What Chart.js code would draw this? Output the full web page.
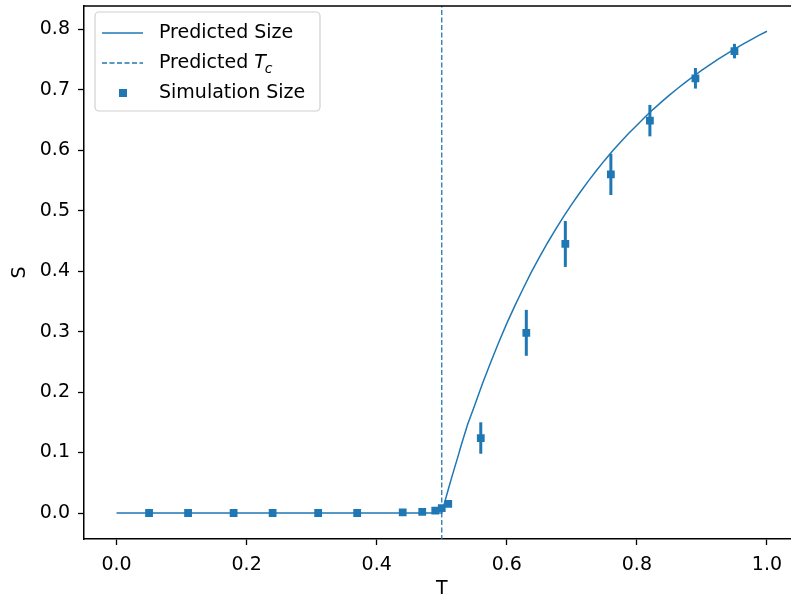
<!DOCTYPE html>
<html>
<head>
<meta charset="utf-8">
<script src="https://cdn.jsdelivr.net/npm/chart.js@4.4.1/dist/chart.umd.min.js"></script>
<style>
  html, body { margin: 0; padding: 0; background: #fff; overflow: hidden; }
  #wrap { width: 791px; height: 596px; overflow: hidden; }
</style>
</head>
<body>
<div id="wrap"><canvas id="sizeChart" width="805" height="596"></canvas></div>
<script>
// predicted giant component size
var predT = [0, 0.5, 0.505, 0.51, 0.515, 0.52, 0.525, 0.53, 0.535, 0.54, 0.545, 0.55, 0.5625, 0.575, 0.5875, 0.6, 0.6125, 0.625, 0.6375, 0.65, 0.6625, 0.675, 0.6875, 0.7, 0.7125, 0.725, 0.7375, 0.75, 0.7625, 0.775, 0.7875, 0.8, 0.8125, 0.825, 0.8375, 0.85, 0.8625, 0.875, 0.8875, 0.9, 0.9125, 0.925, 0.9375, 0.95, 0.9625, 0.975, 0.9875, 1.0];
var predS = [0, 0, 0.0197, 0.039, 0.0577, 0.0759, 0.0937, 0.1124, 0.1299, 0.1472, 0.1618, 0.1761, 0.2137, 0.2486, 0.2821, 0.3137, 0.3431, 0.371, 0.3979, 0.4228, 0.4466, 0.4691, 0.4906, 0.5108, 0.5301, 0.5486, 0.566, 0.5828, 0.5988, 0.6138, 0.6282, 0.6414, 0.6551, 0.6677, 0.6797, 0.6912, 0.7022, 0.7127, 0.7228, 0.7324, 0.7417, 0.7506, 0.7591, 0.7672, 0.7751, 0.7826, 0.7899, 0.7968];

// simulation results
var simT = [0.05, 0.11, 0.18, 0.24, 0.31, 0.37, 0.44, 0.47, 0.49, 0.50, 0.51, 0.56, 0.63, 0.69, 0.76, 0.82, 0.89, 0.95];
var simS = [0, 0, 0, 0, 0, 0, 0.001, 0.002, 0.004, 0.008, 0.015, 0.124, 0.298, 0.445, 0.56, 0.649, 0.719, 0.764];
var simErr = [0, 0, 0, 0, 0, 0, 0, 0, 0, 0, 0.001, 0.026, 0.038, 0.038, 0.034, 0.026, 0.017, 0.012];

var tc = 0.5;

var xTicks = [0, 0.2, 0.4, 0.6, 0.8, 1.0];
var yTicks = [0, 0.1, 0.2, 0.3, 0.4, 0.5, 0.6, 0.7, 0.8];

var blue = '#1f77b4';
Chart.defaults.font.family = 'DejaVu Sans';
Chart.defaults.font.size = 19;
Chart.defaults.color = '#000';

var errorBars = {
    id: 'errorBars',
    afterDatasetsDraw: function(chart) {
        var ctx = chart.ctx, xs = chart.scales.x, ys = chart.scales.y;
        ctx.save();
        ctx.strokeStyle = blue;
        ctx.lineWidth = 3;
        for (var i = 0; i < simT.length; i++) {
            if (!simErr[i]) continue;
            var px = xs.getPixelForValue(simT[i]);
            ctx.beginPath();
            ctx.moveTo(px, ys.getPixelForValue(simS[i] - simErr[i]));
            ctx.lineTo(px, ys.getPixelForValue(simS[i] + simErr[i]));
            ctx.stroke();
        }
        ctx.restore();
    }
};

var frame = {
    id: 'frame',
    afterDraw: function(chart) {
        var ctx = chart.ctx, a = chart.chartArea;
        ctx.save();
        ctx.strokeStyle = '#000';
        ctx.lineWidth = 1.5;
        ctx.beginPath();
        ctx.moveTo(a.left, a.top);
        ctx.lineTo(a.right + 10, a.top);
        ctx.stroke();

        // legend box
        var lx = 95, ly = 12, lw = 225, lh = 99, r = 4;
        ctx.beginPath();
        ctx.moveTo(lx + r, ly);
        ctx.arcTo(lx + lw, ly, lx + lw, ly + lh, r);
        ctx.arcTo(lx + lw, ly + lh, lx, ly + lh, r);
        ctx.arcTo(lx, ly + lh, lx, ly, r);
        ctx.arcTo(lx, ly, lx + lw, ly, r);
        ctx.closePath();
        ctx.fillStyle = 'rgba(255,255,255,0.8)';
        ctx.fill();
        ctx.strokeStyle = '#d0d0d0';
        ctx.lineWidth = 1.2;
        ctx.stroke();

        ctx.strokeStyle = blue;
        ctx.lineWidth = 1.5;
        ctx.beginPath();
        ctx.moveTo(102, 33); ctx.lineTo(143, 33);
        ctx.stroke();
        ctx.setLineDash([5, 2.5]);
        ctx.beginPath();
        ctx.moveTo(102, 63); ctx.lineTo(143, 63);
        ctx.stroke();
        ctx.setLineDash([]);
        ctx.fillStyle = blue;
        ctx.fillRect(119, 89, 8, 8);

        ctx.fillStyle = '#000';
        ctx.textBaseline = 'middle';
        ctx.font = '19px DejaVu Sans';
        ctx.fillText('Predicted Size', 159, 33);
        ctx.fillText('Predicted ', 159, 63);
        var w = ctx.measureText('Predicted ').width;
        ctx.font = 'italic 19px DejaVu Sans';
        ctx.fillText('T', 159 + w, 63);
        var w2 = ctx.measureText('T').width;
        ctx.font = 'italic 14px DejaVu Sans';
        ctx.fillText('c', 159 + w + w2 - 1, 69);
        ctx.font = '19px DejaVu Sans';
        ctx.fillText('Simulation Size', 159, 93);
        ctx.restore();
    }
};

var ctx = document.getElementById('sizeChart').getContext('2d');
var sizeChart = new Chart(ctx, {
    type: 'scatter',
    data: {
        datasets: [
            {
                label: 'Predicted Size',
                data: predT.map(function(t, i) { return { x: t, y: predS[i] }; }),
                showLine: true,
                borderColor: blue,
                borderWidth: 1.5,
                pointRadius: 0,
                tension: 0
            },
            {
                label: 'Predicted Tc',
                data: [{ x: tc, y: -1 }, { x: tc, y: 2 }],
                showLine: true,
                borderColor: blue,
                borderWidth: 1.3,
                borderDash: [5, 2.5],
                pointRadius: 0
            },
            {
                label: 'Simulation Size',
                data: simT.map(function(t, i) { return { x: t, y: simS[i] }; }),
                pointStyle: 'rect',
                pointRadius: 5.5,
                backgroundColor: blue,
                borderColor: blue,
                borderWidth: 0
            }
        ]
    },
    options: {
        responsive: false,
        animation: false,
        layout: { padding: { top: 6, right: 1.5, left: 0, bottom: 0 } },
        plugins: {
            legend: { display: false },
            tooltip: { enabled: false }
        },
        scales: {
            x: {
                type: 'linear',
                min: -0.05,
                max: 1.05,
                afterBuildTicks: function(s) { s.ticks = xTicks.map(function(v) { return { value: v }; }); },
                afterFit: function(s) { s.height = 57; s.paddingLeft = 0; s.paddingRight = 0; },
                ticks: { callback: function(v) { return v.toFixed(1); }, padding: 9, maxRotation: 0 },
                grid: { drawOnChartArea: false, tickLength: 6, color: '#000', tickWidth: 1.3 },
                border: { color: '#000', width: 1.5 },
                title: { display: true, text: 'T', font: { lineHeight: 1 }, padding: { top: 0, bottom: -3 } }
            },
            y: {
                min: -0.043,
                max: 0.8386,
                afterBuildTicks: function(s) { s.ticks = yTicks.map(function(v) { return { value: v }; }); },
                afterFit: function(s) { s.width = 84; s.paddingTop = 0; s.paddingBottom = 0; },
                ticks: { callback: function(v) { return v.toFixed(1); }, padding: 8 },
                grid: { drawOnChartArea: false, tickLength: 6, color: '#000', tickWidth: 1.3 },
                border: { color: '#000', width: 1.5 },
                title: { display: true, text: 'S', font: { lineHeight: 1 }, padding: { top: 11, bottom: 0 } }
            }
        }
    },
    plugins: [errorBars, frame]
});
</script>
</body>
</html>
